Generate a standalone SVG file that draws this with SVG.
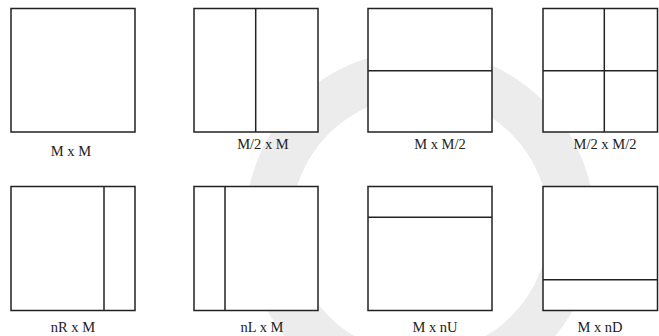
<svg xmlns="http://www.w3.org/2000/svg" width="659" height="336" viewBox="0 0 659 336">
<style>
.box{fill:#fff;stroke:#222;stroke-width:1.5}
.div{stroke:#222;stroke-width:1.5;fill:none}
.lbl{font-family:"Liberation Serif","Times New Roman",serif;font-size:14.5px;fill:#222;text-anchor:middle}
.wm{fill:none;stroke:#ececec}
</style>
<rect width="659" height="336" fill="#fff"/>
<g id="watermark">
<circle class="wm" cx="420" cy="225" r="152" stroke-width="46"/>
</g>
<g id="n1">
<rect class="box" x="11" y="8.5" width="124" height="123.5"/>
<text class="lbl" x="71" y="156">M x M</text>
</g>
<g id="n2">
<rect class="box" x="194" y="8.5" width="124" height="123.5"/>
<line class="div" x1="255.7" y1="8.5" x2="255.7" y2="132"/>
<text class="lbl" x="263" y="148.5">M/2 x M</text>
</g>
<g id="n3">
<rect class="box" x="368" y="8.5" width="124" height="123.5"/>
<line class="div" x1="368" y1="70.7" x2="492" y2="70.7"/>
<text class="lbl" x="440" y="149">M x M/2</text>
</g>
<g id="n4">
<rect class="box" x="543" y="8.5" width="114.5" height="123.5"/>
<line class="div" x1="604.3" y1="8.5" x2="604.3" y2="132"/>
<line class="div" x1="543" y1="70.7" x2="657.5" y2="70.7"/>
<text class="lbl" x="605" y="149">M/2 x M/2</text>
</g>
<g id="n5">
<rect class="box" x="11" y="186.5" width="124" height="124"/>
<line class="div" x1="104" y1="186.5" x2="104" y2="310.5"/>
<text class="lbl" x="73" y="332">nR x M</text>
</g>
<g id="n6">
<rect class="box" x="194" y="186.5" width="124" height="124"/>
<line class="div" x1="225" y1="186.5" x2="225" y2="310.5"/>
<text class="lbl" x="262" y="332">nL x M</text>
</g>
<g id="n7">
<rect class="box" x="368" y="186.5" width="124" height="124"/>
<line class="div" x1="368" y1="217.3" x2="492" y2="217.3"/>
<text class="lbl" x="435" y="332">M x nU</text>
</g>
<g id="n8">
<rect class="box" x="543" y="186.5" width="114.5" height="124"/>
<line class="div" x1="543" y1="279.7" x2="657.5" y2="279.7"/>
<text class="lbl" x="600" y="332">M x nD</text>
</g>
<g id="connectors"/>
</svg>
